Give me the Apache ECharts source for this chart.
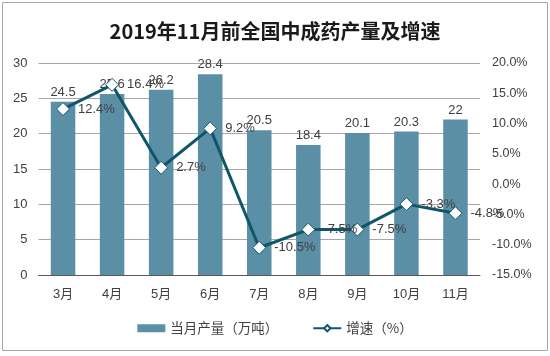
<!DOCTYPE html>
<html><head><meta charset="utf-8">
<script src="https://cdn.jsdelivr.net/npm/echarts@6/dist/echarts.min.js"></script>
<style>html,body{margin:0;padding:0;background:#fff}#c{width:550px;height:356px}</style>
</head><body><div id="c"></div>
<script>
const categories = ['3月','4月','5月','6月','7月','8月','9月','10月','11月'];
const output = [24.5, 25.6, 26.2, 28.4, 20.5, 18.4, 20.1, 20.3, 22];
const growth = [12.4, 16.4, 2.7, 9.2, -10.5, -7.5, -7.5, -3.3, -4.8];
const leftTicks = [0, 30, 5];
const rightTicks = [-15, 20, 5];
const chart = echarts.init(document.getElementById('c'));
const font = '"Liberation Sans", Arial, "Noto Sans CJK SC", sans-serif';
chart.setOption({
  animation: false,
  graphic: [{type:'rect', shape:{x:2.5,y:2.5,width:545,height:348}, style:{fill:'none', stroke:'#a6a6a6', lineWidth:1}}],
  title: {text:'2019年11月前全国中成药产量及增速', left:'center', top:16,
    textStyle:{fontFamily:'"Noto Sans CJK SC", sans-serif', fontSize:20, fontWeight:'bold', color:'#1a1a1a'}},
  legend: {bottom:16, itemGap:34, itemWidth:28, itemHeight:8,
    textStyle:{fontFamily:'"Noto Sans CJK SC", sans-serif', fontSize:13.5, color:'#404040'},
    data:[{name:'当月产量（万吨）', icon:'rect'}, {name:'增速（%）'}]},
  grid: {left:38.5, right:70, top:63, bottom:81, containLabel:false},
  xAxis: {type:'category', data:categories,
    axisLine:{lineStyle:{color:'#595959', width:1}}, axisTick:{show:false},
    axisLabel:{fontFamily:font, fontSize:13, color:'#404040', margin:13}},
  yAxis: [
    {type:'value', min:leftTicks[0], max:leftTicks[1], interval:leftTicks[2],
     axisLine:{show:false}, axisTick:{show:false},
     axisLabel:{fontFamily:font, fontSize:13, color:'#404040', margin:11},
     splitLine:{lineStyle:{color:'#a6a6a6', width:1}}},
    {type:'value', min:rightTicks[0], max:rightTicks[1], interval:rightTicks[2],
     axisLine:{show:false}, axisTick:{show:false}, splitLine:{show:false},
     axisLabel:{fontFamily:font, fontSize:12.5, color:'#404040', margin:12,
       formatter: v => v.toFixed(1) + '%'}}
  ],
  series: [
    {name:'当月产量（万吨）', type:'bar', data:output, barWidth:'50%',
     itemStyle:{color:'#5b8fa6'},
     label:{show:true, position:'top', distance:3, fontFamily:font, fontSize:13, color:'#404040'}},
    {name:'增速（%）', type:'line', yAxisIndex:1, data:growth,
     lineStyle:{color:'#0f566b', width:3}, itemStyle:{color:'#ffffff', borderColor:'#0f566b', borderWidth:1},
     symbol:'diamond', symbolSize:13,
     label:{show:true, position:'right', distance:8, fontFamily:font, fontSize:13, color:'#404040',
       formatter: p => p.value + '%'}}
  ]
});
</script></body></html>
